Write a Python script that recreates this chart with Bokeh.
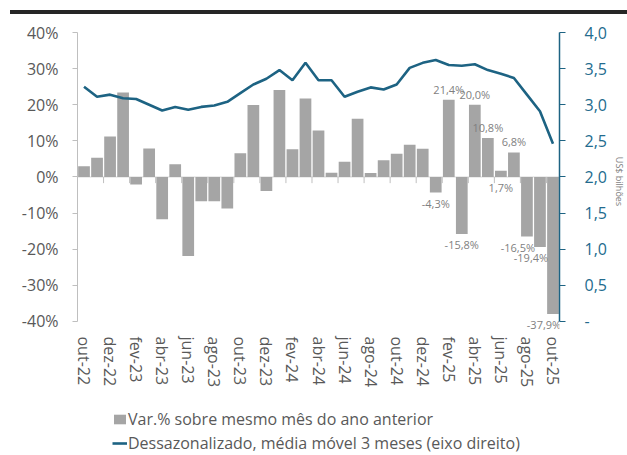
from bokeh.plotting import figure
from bokeh.models import (Range1d, LinearAxis, FactorRange, Legend, LegendItem,
                          ColumnDataSource, FixedTicker, Span, Div, Spacer, LabelSet,
                          CustomJSTickFormatter)
from bokeh.transform import dodge
from bokeh.layouts import column
from bokeh.embed import file_html
from bokeh.resources import INLINE
from bokeh.core.properties import value

months = ["out-22", "nov-22", "dez-22", "jan-23", "fev-23", "mar-23", "abr-23", "mai-23",
          "jun-23", "jul-23", "ago-23", "set-23", "out-23", "nov-23", "dez-23", "jan-24",
          "fev-24", "mar-24", "abr-24", "mai-24", "jun-24", "jul-24", "ago-24", "set-24",
          "out-24", "nov-24", "dez-24", "jan-25", "fev-25", "mar-25", "abr-25", "mai-25",
          "jun-25", "jul-25", "ago-25", "set-25", "out-25"]

var_pct = [3.0, 5.3, 11.2, 23.4, -2.1, 7.9, -11.7, 3.5, -21.9, -6.7, -6.7, -8.7,
           6.6, 19.9, -3.9, 24.1, 7.7, 21.7, 12.9, 1.2, 4.2, 16.1, 1.1, 4.6,
           6.4, 8.9, 7.8, -4.3, 21.4, -15.8, 20.0, 10.8, 1.7, 6.8, -16.5, -19.4, -37.9]

mm3_sa = [3.25, 3.11, 3.14, 3.09, 3.08, 3.00, 2.92, 2.97, 2.93, 2.97, 2.99, 3.04,
          3.16, 3.28, 3.36, 3.48, 3.34, 3.58, 3.34, 3.34, 3.11, 3.18, 3.24, 3.21,
          3.28, 3.51, 3.58, 3.62, 3.55, 3.54, 3.56, 3.48, 3.43, 3.37, 3.14, 2.91, 2.46]

labeled_months = months[27:]

left_ticks = [-40, -30, -20, -10, 0, 10, 20, 30, 40]
right_ticks = [0.0, 0.5, 1.0, 1.5, 2.0, 2.5, 3.0, 3.5, 4.0]

legend_bar = "Var.% sobre mesmo mês do ano anterior"
legend_line = "Dessazonalizado, média móvel 3 meses (eixo direito)"
right_axis_title = "US$ bilhões"

FONT = "Open Sans"
BAR = "#a5a5a5"
TEAL = "#1d6383"
TEAL_TXT = "#236b8e"
GRAY_TXT = "#595959"

src = ColumnDataSource(dict(m=months, v=var_pct, s=mm3_sa))

# ranges extend a little below the lowest tick so the bottom data label stays visible
p = figure(x_range=FactorRange(factors=months, range_padding=0),
           y_range=Range1d(-42.5, 40),
           frame_width=482, frame_height=298,
           min_border_left=77, min_border_right=66, min_border_top=18, min_border_bottom=70,
           output_backend="svg", toolbar_location=None, tools="")
p.outline_line_color = None
p.xgrid.visible = False
p.ygrid.visible = False
p.background_fill_color = "white"

p.extra_y_ranges = {"right": Range1d(-0.125, 4)}

zero = Span(location=0, dimension="width", line_color="#d9d9d9", line_width=1, level="underlay")
p.add_layout(zero)

bars = p.vbar(x="m", top="v", width=0.9, source=src, fill_color=BAR, line_color=None)

tick_src = ColumnDataSource(dict(m=months[::2]))
tx = dodge("m", -0.5, range=p.x_range)
p.segment(x0=tx, y0=0, x1=tx, y1=-1.7, source=tick_src, line_color="#bfbfbf", line_width=1)

ln = p.line(x="m", y="s", source=src, y_range_name="right", line_color=TEAL, line_width=2.6)

# data labels (last months only); the lowest three are nudged left as in the original
lab = {"m": [], "y": [], "t": [], "dx": []}
lab_low = {"m": [], "y": [], "t": [], "dx": []}
for m, v in zip(months, var_pct):
    if m in labeled_months:
        t = f"{v:.1f}".replace(".", ",") + "%"
        if v >= 5:
            lab["m"].append(m); lab["y"].append(v); lab["t"].append(t); lab["dx"].append(0)
        else:
            lab_low["m"].append(m); lab_low["y"].append(min(v, 0)); lab_low["t"].append(t)
            lab_low["dx"].append(-9 if v < -16 else 0)
p.add_layout(LabelSet(x="m", y="y", text="t", source=ColumnDataSource(lab), text_align="center",
                      text_baseline="bottom", y_offset=3, x_offset="dx", text_font=value(FONT),
                      text_font_size=value("11px"), text_color=value("#7f7f7f"), level="overlay"))
p.add_layout(LabelSet(x="m", y="y", text="t", source=ColumnDataSource(lab_low), text_align="center",
                      text_baseline="top", y_offset=-3, x_offset="dx", text_font=value(FONT),
                      text_font_size=value("11px"), text_color=value("#7f7f7f"), level="overlay"))

# bottom axis
xa = p.xaxis[0]
xa.axis_line_color = None
xa.major_tick_line_color = None
xa.minor_tick_line_color = None
xa.major_label_orientation = "vertical"
xa.major_label_standoff = 0
xa.major_label_text_font = FONT
xa.major_label_text_font_size = "16px"
xa.major_label_text_color = GRAY_TXT
xa.formatter = CustomJSTickFormatter(code="return (index % 2 == 0) ? tick : '';")

# left axis
ya = p.yaxis[0]
ya.ticker = FixedTicker(ticks=left_ticks)
ya.bounds = (-40, 40)
ya.major_label_overrides = {t: f"{t}%" for t in left_ticks}
ya.axis_line_color = "#bfbfbf"
ya.major_tick_line_color = "#bfbfbf"
ya.major_tick_in = 0
ya.major_tick_out = 5
ya.minor_tick_line_color = None
ya.major_label_standoff = 14
ya.major_label_text_font = FONT
ya.major_label_text_font_size = "16px"
ya.major_label_text_color = GRAY_TXT

# right axis
ra = LinearAxis(y_range_name="right", ticker=FixedTicker(ticks=right_ticks), bounds=(0, 4))
ra.major_label_overrides = {t: ("-" if t == 0 else f"{t:.1f}".replace(".", ",")) for t in right_ticks}
ra.axis_line_color = TEAL
ra.axis_line_width = 1.5
ra.major_tick_line_color = TEAL
ra.major_tick_in = 0
ra.major_tick_out = 6
ra.minor_tick_line_color = None
ra.major_label_standoff = 19
ra.major_label_text_font = FONT
ra.major_label_text_font_size = "16px"
ra.major_label_text_color = TEAL_TXT
ra.axis_label = right_axis_title
ra.axis_label_text_font = FONT
ra.axis_label_text_font_size = "9px"
ra.axis_label_text_font_style = "normal"
ra.axis_label_text_color = "#7f7f7f"
ra.axis_label_standoff = 3
p.add_layout(ra, "right")

# legend drawn in a strip figure below the chart, with the same horizontal borders
lf = figure(frame_width=482, frame_height=55, x_range=Range1d(0, 1), y_range=Range1d(1, 2),
            min_border_left=77, min_border_top=0, min_border_right=66, min_border_bottom=0,
            x_axis_type=None, y_axis_type=None,
            output_backend="svg", toolbar_location=None, tools="")
lf.outline_line_color = None
lf.xgrid.visible = False
lf.ygrid.visible = False
# placeholder renderers (zero-size, outside the visible range) that only carry the legend styles
r_bar = lf.vbar(x=[0], top=[0], bottom=[0], width=0.9, fill_color=BAR, line_color=None)
r_line = lf.line(x=[0], y=[0], line_color=TEAL, line_width=2.6)
legend = Legend(items=[LegendItem(label=legend_bar, renderers=[r_bar]),
                       LegendItem(label=legend_line, renderers=[r_line])],
                location=(35, 1), orientation="vertical",
                border_line_color=None, background_fill_alpha=0,
                margin=0, padding=0, spacing=2,
                glyph_width=15, glyph_height=12, label_standoff=1, label_height=20,
                label_text_font=FONT, label_text_font_size="16px", label_text_color=GRAY_TXT)
lf.add_layout(legend, "center")

rule = Div(text="", width=617, height=4, margin=(0, 0, 0, 10),
           styles={"background-color": "#262626", "width": "617px", "height": "4px"})
layout = column(Spacer(height=10, margin=0), rule, p, lf, spacing=0)

open("out.html", "w").write(file_html(layout, INLINE))
